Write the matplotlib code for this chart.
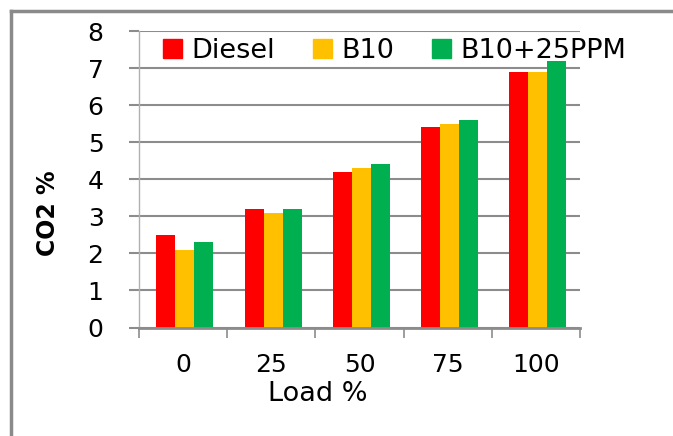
import numpy as np
import matplotlib
matplotlib.use('Agg')
import matplotlib.pyplot as plt
from matplotlib.lines import Line2D
from matplotlib.patches import Patch

plt.rcParams.update({'font.family': 'DejaVu Sans', 'font.size': 18})

loads = ['0', '25', '50', '75', '100']
diesel = [2.5, 3.2, 4.2, 5.4, 6.9]
b10 = [2.1, 3.1, 4.3, 5.5, 6.9]
b10_ppm = [2.3, 3.2, 4.4, 5.6, 7.2]

W, H = 673, 436
fig = plt.figure(figsize=(W / 100, H / 100), dpi=100)
ax = fig.add_axes([139 / W, 1 - 327.5 / H, (580 - 139) / W, (327.5 - 31) / H])

grid_c = '#8c8c8c'
x = np.arange(len(loads))
w = 0.215
ax.bar(x - w + 0.02, diesel, w, color='#ff0000', label='Diesel')
ax.bar(x + 0.02, b10, w, color='#ffc000', label='B10')
ax.bar(x + w + 0.02, b10_ppm, w, color='#00b050', label='B10+25PPM')

ax.set_xlim(-0.5, 4.5)
ax.set_ylim(0, 8)
ax.set_yticks(range(9))
ax.yaxis.grid(True, color=grid_c, linewidth=1.5)
ax.set_axisbelow(True)

# category boundaries carry the tick marks, centres carry the labels
ax.set_xticks(np.arange(-0.5, 5, 1))
ax.set_xticklabels([])
ax.set_xticks(x, minor=True)
ax.set_xticklabels(loads, minor=True)
ax.tick_params(axis='x', which='major', direction='out', length=7.5, width=1.2, color=grid_c)
ax.tick_params(axis='x', which='minor', length=0, pad=18)
ax.tick_params(axis='y', direction='out', length=7.5, width=1.5, color=grid_c, pad=18)

for s in ['right', 'top']:
    ax.spines[s].set_visible(False)
ax.spines['left'].set_color('#b0b0b0')
ax.spines['left'].set_linewidth(1)
ax.spines['bottom'].set_color(grid_c)
ax.spines['bottom'].set_linewidth(2)

ax.legend(handles=[Patch(color='#ff0000', label='Diesel'),
                   Patch(color='#ffc000', label='B10'),
                   Patch(color='#00b050', label='B10+25PPM')],
          ncol=3, frameon=False, loc='center left', fontsize=19.5,
          bbox_to_anchor=(163 / W, 1 - 51 / H), bbox_transform=fig.transFigure,
          handlelength=0.7, handleheight=0.7, handletextpad=0.35,
          columnspacing=1.4, borderaxespad=0, borderpad=0)

fig.text(48 / W, 1 - 213 / H, 'CO2 %', rotation=90, fontweight='bold',
         ha='center', va='center', fontsize=17)
fig.text(318 / W, 1 - 401 / H, 'Load %', ha='center', va='baseline', fontsize=19.5)

# outer chart frame (top and left edges)
fig.add_artist(Line2D([11 / W, 1], [1 - 11 / H, 1 - 11 / H], color='#8a8a8a', lw=2.5))
fig.add_artist(Line2D([11 / W, 11 / W], [1 - 11 / H, 0], color='#8a8a8a', lw=2.5))

fig.savefig('out.png', dpi=100)
